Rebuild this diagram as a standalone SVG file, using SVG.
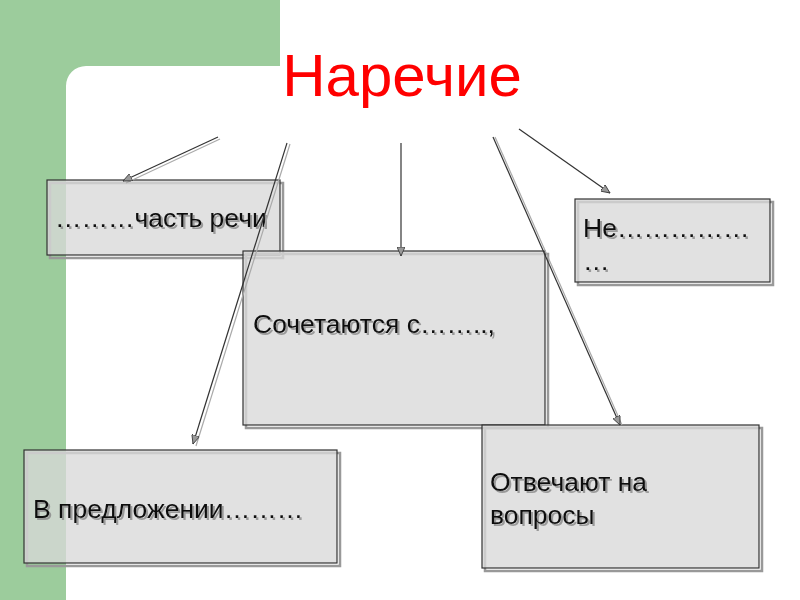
<svg xmlns="http://www.w3.org/2000/svg" width="800" height="600" viewBox="0 0 800 600">
<defs>
<style>
.box{fill:#d8d8d8;fill-opacity:0.78;stroke:#333;stroke-width:1.2}
.bsh{fill:none;stroke:#999;stroke-width:2.5}
.t{font-family:"Liberation Sans",Arial,sans-serif;font-size:26.5px;fill:#111;filter:url(#ts)}
.ln{stroke:#333;stroke-width:1.2;fill:none;marker-end:url(#ah)}
.ls{stroke:#aaa;stroke-width:1.2;fill:none}
</style>
<filter id="ts" x="-5%" y="-20%" width="115%" height="150%">
<feDropShadow dx="2" dy="2" stdDeviation="0.6" flood-color="#888" flood-opacity="0.8"/>
</filter>
<marker id="ah" markerWidth="10" markerHeight="8" refX="9" refY="4" orient="auto" markerUnits="userSpaceOnUse">
<path d="M0,0 L9,4 L0,8 Z" fill="#999" stroke="#333" stroke-width="0.8"/>
</marker>
</defs>
<rect width="800" height="600" fill="#fff"/>
<path d="M0,0 H280 V66 H86 A20,20 0 0 0 66,86 V600 H0 Z" fill="#9ccc9c"/>
<text x="402" y="96" text-anchor="middle" font-family="'Liberation Sans',Arial,sans-serif" font-size="60" fill="#ff0000">Наречие</text>
<g id="n1">
<rect class="bsh" x="50" y="183" width="233" height="75"/>
<rect class="box" x="47" y="180" width="233" height="75"/>
<text class="t" x="55" y="227">………часть речи</text>
</g>
<g id="n2">
<rect class="bsh" x="578" y="202" width="195" height="83"/>
<rect class="box" x="575" y="199" width="195" height="83"/>
<text class="t" x="583" y="237">Не……………</text>
<text class="t" x="583" y="270">…</text>
</g>
<g id="n3">
<rect class="bsh" x="246" y="254" width="302" height="174"/>
<rect class="box" x="243" y="251" width="302" height="174"/>
<text class="t" x="253" y="333">Сочетаются с……..,</text>
</g>
<g id="n4">
<rect class="bsh" x="27" y="453" width="313" height="113"/>
<rect class="box" x="24" y="450" width="313" height="113"/>
<text class="t" x="33" y="518">В предложении………</text>
</g>
<g id="n5">
<rect class="bsh" x="485" y="428" width="277" height="143"/>
<rect class="box" x="482" y="425" width="277" height="143"/>
<text class="t" x="490" y="491">Отвечают на</text>
<text class="t" x="490" y="524">вопросы</text>
</g>
<g id="connectors">
<line class="ls" x1="220" y1="139" x2="126" y2="183"/>
<line class="ln" x1="218" y1="137" x2="123" y2="181"/>
<line class="ls" x1="290" y1="144" x2="196" y2="446"/>
<line class="ln" x1="287" y1="143" x2="193" y2="444"/>
<line class="ln" x1="401" y1="143" x2="401" y2="256"/>
<line class="ls" x1="495" y1="137" x2="622" y2="425"/>
<line class="ln" x1="493" y1="137" x2="620" y2="425"/>
<line class="ln" x1="519" y1="129" x2="610" y2="193"/>
</g>
</svg>
